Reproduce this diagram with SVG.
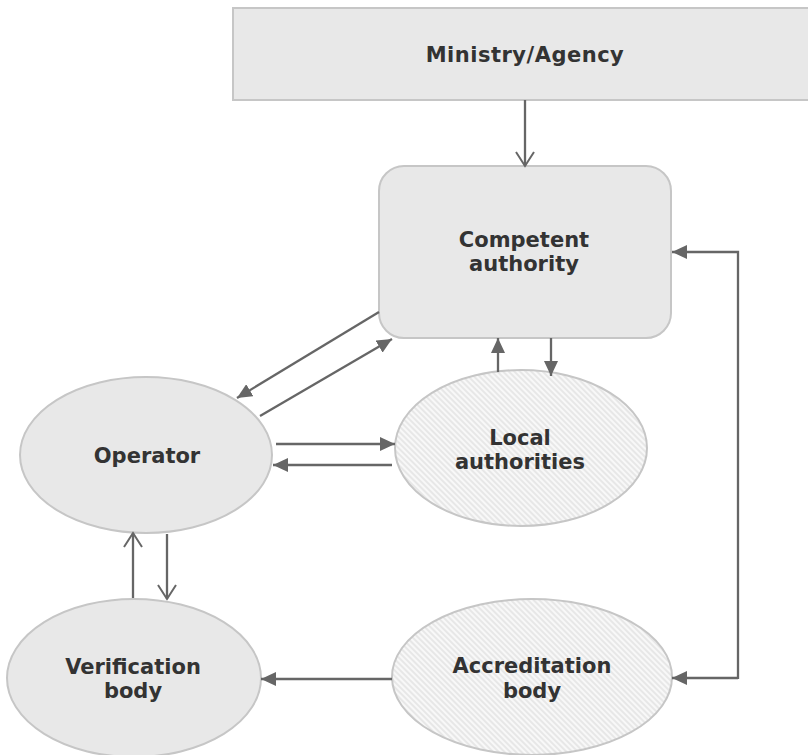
<svg xmlns="http://www.w3.org/2000/svg" width="808" height="755" viewBox="0 0 808 755">
<defs>
<pattern id="hatch" width="4" height="4" patternUnits="userSpaceOnUse" patternTransform="rotate(-45)">
<rect width="4" height="4" fill="#f8f8f8"/>
<line x1="1" y1="0" x2="1" y2="4" stroke="#dedede" stroke-width="1.3"/>
</pattern>
<marker id="fa" markerUnits="userSpaceOnUse" markerWidth="16" markerHeight="14" refX="15" refY="7" orient="auto">
<path d="M0,0 L15,7 L0,14 z" fill="#666"/>
</marker>
<marker id="oa" markerUnits="userSpaceOnUse" markerWidth="18" markerHeight="22" refX="16" refY="11" orient="auto">
<path d="M2,2 L16,11 L2,20" fill="none" stroke="#666" stroke-width="2"/>
</marker>
<style>
.node{fill:#e8e8e8;stroke:#c6c6c6;stroke-width:2}
.hatched{fill:url(#hatch);stroke:#c6c6c6;stroke-width:2}
.lbl{font-family:"DejaVu Sans",Verdana,sans-serif;font-weight:bold;font-size:21px;fill:#333;text-anchor:middle}
.c{fill:none;stroke:#666;stroke-width:2.3}
.f{marker-end:url(#fa)}
.o{marker-end:url(#oa)}
</style>
</defs>
<g id="ministry">
<rect class="node" x="233" y="8" width="585" height="92"/>
<text class="lbl" x="525" y="62" letter-spacing="0.5">Ministry/Agency</text>
</g>
<g id="competent">
<rect class="node" x="379" y="166" width="292" height="172" rx="25" ry="25"/>
<text class="lbl" x="524" y="247">Competent</text>
<text class="lbl" x="524" y="271">authority</text>
</g>
<g id="operator">
<ellipse class="node" cx="146" cy="455" rx="126" ry="78"/>
<text class="lbl" x="147" y="463">Operator</text>
</g>
<g id="local">
<ellipse class="hatched" cx="521" cy="448" rx="126" ry="78"/>
<text class="lbl" x="520" y="445">Local</text>
<text class="lbl" x="520" y="469">authorities</text>
</g>
<g id="verification">
<ellipse class="node" cx="134" cy="678" rx="127" ry="79"/>
<text class="lbl" x="133" y="674">Verification</text>
<text class="lbl" x="133" y="698">body</text>
</g>
<g id="accreditation">
<ellipse class="hatched" cx="532" cy="677" rx="140" ry="78"/>
<text class="lbl" x="532" y="673">Accreditation</text>
<text class="lbl" x="532" y="698">body</text>
</g>
<g id="connectors">
<line class="c o" x1="525" y1="100" x2="525" y2="166"/>
<line class="c f" x1="379" y1="312" x2="237" y2="398"/>
<line class="c f" x1="260" y1="416" x2="392" y2="339"/>
<line class="c f" x1="276" y1="444" x2="395" y2="444"/>
<line class="c f" x1="392" y1="465" x2="273" y2="465"/>
<line class="c f" x1="498" y1="372" x2="498" y2="338"/>
<line class="c f" x1="551" y1="338" x2="551" y2="376"/>
<path class="c f" d="M738,678 H672"/>
<path class="c f" d="M738,679 V252 H672"/>
<line class="c f" x1="392" y1="679" x2="261" y2="679"/>
<line class="c o" x1="133" y1="598" x2="133" y2="533"/>
<line class="c o" x1="167" y1="534" x2="167" y2="599"/>
</g>
</svg>
